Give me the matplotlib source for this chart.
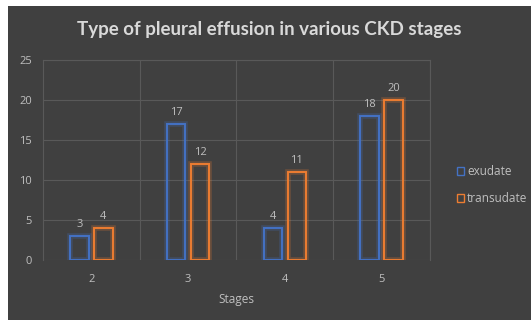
import matplotlib.pyplot as plt
import matplotlib.patheffects as pe
import numpy as np
from matplotlib.patches import Patch, Rectangle

stages = ["2", "3", "4", "5"]
exudate = [3, 17, 4, 18]
transudate = [4, 12, 11, 20]

BG = "#404040"
TXT = "#bfbfbf"
GRID = "#595959"
BLUE = "#4472c4"
ORANGE = "#ed7d31"

fig = plt.figure(figsize=(5.31, 3.2), dpi=100, facecolor="white")
fig.patches.append(Rectangle((8 / 531, 0), 1, 1 - 6 / 320, transform=fig.transFigure,
                             facecolor=BG, edgecolor="none", zorder=-10))

ax = fig.add_axes([43 / 531, 1 - 260 / 320, 387 / 531, 200 / 320])
ax.set_facecolor(BG)

x = np.arange(len(stages))
w = 0.19
off = 0.124
for vals, color, dx in [(exudate, BLUE, -off), (transudate, ORANGE, off)]:
    bars = ax.bar(x + dx, vals, w, facecolor="none", edgecolor=color, linewidth=1.4, zorder=3)
    for b in bars:
        b.set_path_effects([pe.Stroke(linewidth=4, foreground=color, alpha=0.25), pe.Normal()])
    for xi, v in zip(x + dx, vals):
        ax.annotate(str(v), (xi, v), xytext=(0, 4), textcoords="offset points",
                    ha="center", va="bottom", color=TXT, fontsize=8, family="Open Sans")

ax.set_xlim(-0.5, len(stages) - 0.5)
ax.set_ylim(0, 25)
ax.set_yticks(range(0, 26, 5))
ax.set_xticks(x)
ax.set_xticklabels(stages)
ax.set_xticks(np.arange(0.5, len(stages), 1), minor=True)
ax.grid(axis="y", color=GRID, linewidth=0.8, zorder=0)
ax.grid(axis="x", which="minor", color=GRID, linewidth=0.8, zorder=0)
ax.tick_params(axis="both", which="both", length=0, colors=TXT, labelsize=8)
ax.tick_params(axis="x", pad=10)
ax.tick_params(axis="y", pad=8)
for name, s in ax.spines.items():
    s.set_visible(name != "bottom")
    s.set_color(GRID)
    s.set_linewidth(0.8)
for lab in ax.get_xticklabels() + ax.get_yticklabels():
    lab.set_family("Open Sans")

ax.set_xlabel("Stages", color=TXT, fontsize=8.5, family="Open Sans", labelpad=6)

fig.text(269 / 531, 1 - 30 / 320, "Type of pleural effusion in various CKD stages",
         ha="center", va="center", color="#d9d9d9", fontsize=13.5, fontweight="bold", family="Lato")

handles = [Patch(facecolor="none", edgecolor=BLUE, label="exudate"),
           Patch(facecolor="none", edgecolor=ORANGE, label="transudate")]
fig.legend(handles=handles, loc="center left", bbox_to_anchor=(446 / 531, 1 - 185 / 320),
           frameon=False, labelcolor=TXT, handlelength=0.6, handleheight=0.6,
           handletextpad=0.3, labelspacing=1.2, prop={"family": "Open Sans", "size": 8.5})

fig.savefig("out.png", dpi=100, facecolor="white")
